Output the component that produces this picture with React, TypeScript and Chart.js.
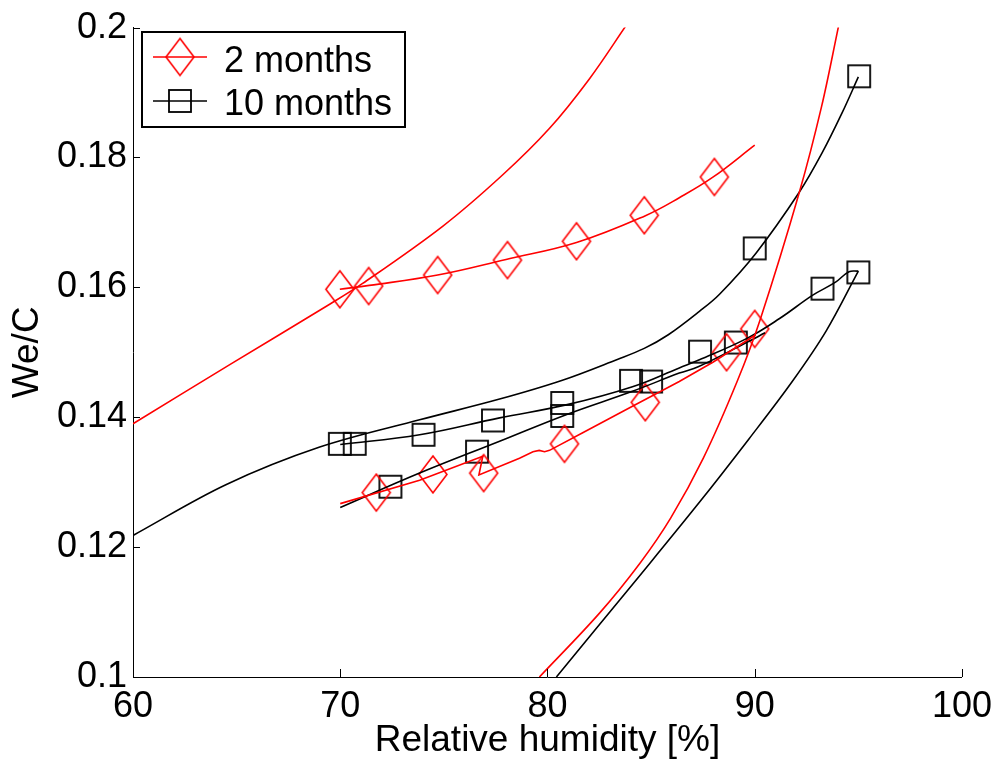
import React, { useEffect, useRef } from 'react';
import { Chart, registerables } from 'chart.js';

Chart.register(...registerables);

// ---------- axis ticks ----------
const X_TICKS = [60, 70, 80, 90, 100];
const Y_TICKS = [0.1, 0.12, 0.14, 0.16, 0.18, 0.2];
const X_TITLE = 'Relative humidity [%]';
const Y_TITLE = 'We/C';
const SERIES_NAMES = ['2 months', '10 months'];

// ---------- 2 months (red) ----------
const RED_FIT_UPPER_X = [60, 64.67, 69.49, 71.08, 74.94, 77.83, 80.1, 82.02, 83.81];
const RED_FIT_UPPER_Y = [0.139, 0.1481, 0.1574, 0.1606, 0.1694, 0.1773, 0.1845, 0.1921, 0.2004];

const RED_STEEP_X = [79.61, 82.5, 84.48, 85.95, 87.52, 89.15, 90.27, 92.15, 93.23, 94.05];
const RED_STEEP_Y = [0.1, 0.1098, 0.1176, 0.1245, 0.1337, 0.1455, 0.1551, 0.1746, 0.1879, 0.2003];

const RED_DES_X = [69.98, 71.4, 74.7, 78.0, 81.4, 84.7, 86.36, 88.0, 90.0];
const RED_DES_Y = [0.1597, 0.1603, 0.1619, 0.1643, 0.1669, 0.171, 0.1738, 0.177, 0.1819];

const RED_ABS_X = [70.0, 73.83, 76.88, 76.69, 78.65, 79.3, 79.6, 79.86, 80.1, 81.7, 84.1, 86.36, 88.0, 90.05];
const RED_ABS_Y = [0.1267, 0.1303, 0.134, 0.1311, 0.1337, 0.1347, 0.1349, 0.1347, 0.1349, 0.1376, 0.1417, 0.1455, 0.1485, 0.1527];

const RED_MARK_X = [69.98, 71.37, 74.7, 78.07, 81.4, 84.67, 88.05, 71.74, 74.47, 76.92, 80.82, 84.72, 88.64, 90.0];
const RED_MARK_Y = [0.1597, 0.1602, 0.1619, 0.1642, 0.1671, 0.1711, 0.177, 0.1284, 0.1312, 0.1314, 0.1359, 0.1423, 0.15, 0.1536];

// ---------- 10 months (black) ----------
const BLACK_FIT_X = [60, 64.48, 69.01, 73.83, 77.69, 80.72, 83.37, 84.67, 85.83, 87.33, 88.29, 90.07, 92.14, 93.25, 94.22, 95.0];
const BLACK_FIT_Y = [0.1218, 0.1296, 0.1354, 0.1396, 0.1428, 0.1457, 0.1489, 0.1506, 0.1527, 0.1563, 0.1589, 0.1653, 0.1746, 0.1807, 0.1869, 0.1924];

const BLACK_STEEP_X = [80.43, 84.19, 87.33, 89.73, 91.81, 93.45, 95.0];
const BLACK_STEEP_Y = [0.1, 0.1146, 0.1269, 0.1367, 0.1455, 0.1533, 0.1625];

const BLACK_MID_X = [70.0, 73.83, 77.69, 80.9, 84.1, 86.36, 87.3, 89.6, 91.2, 92.8, 93.9, 94.55, 95.0];
const BLACK_MID_Y = [0.1358, 0.1373, 0.1399, 0.1419, 0.1447, 0.1476, 0.1488, 0.1521, 0.1552, 0.1588, 0.1608, 0.1624, 0.1625];

const BLACK_LOW_X = [70.0, 73.83, 77.69, 80.9, 84.1, 86.36, 87.3, 89.6, 90.5];
const BLACK_LOW_Y = [0.1261, 0.1314, 0.1363, 0.1404, 0.144, 0.1468, 0.1478, 0.1515, 0.153];

const BLACK_MARK_X = [69.98, 70.7, 74.02, 77.37, 76.6, 72.42, 80.71, 80.71, 84.03, 85.0, 87.36, 89.09, 93.27, 95.0, 90.0, 95.04];
const BLACK_MARK_Y = [0.1359, 0.1359, 0.1373, 0.1395, 0.1347, 0.1293, 0.1422, 0.1402, 0.1456, 0.1455, 0.1501, 0.1515, 0.1598, 0.1623, 0.166, 0.1925];

const RED = '#ff0000';
const BLACK = '#000000';
const FONT_FAMILY = '"Liberation Sans", Arial, Helvetica, sans-serif';
const FONT_SIZE = 36;
const TITLE_SIZE = 37;

function pts(xs: number[], ys: number[]) {
  return xs.map((x, i) => ({ x, y: ys[i] }));
}

function makeDiamond(color: string, w: number, h: number, lw: number) {
  const c = document.createElement('canvas');
  c.width = w + 4;
  c.height = h + 4;
  const g = c.getContext('2d')!;
  g.strokeStyle = color;
  g.lineWidth = lw;
  const cx = c.width / 2, cy = c.height / 2;
  g.beginPath();
  g.moveTo(cx, cy - h / 2);
  g.lineTo(cx + w / 2, cy);
  g.lineTo(cx, cy + h / 2);
  g.lineTo(cx - w / 2, cy);
  g.closePath();
  g.stroke();
  return c;
}

function makeSquare(color: string, s: number, lw: number) {
  const c = document.createElement('canvas');
  c.width = s + 4;
  c.height = s + 4;
  const g = c.getContext('2d')!;
  g.strokeStyle = color;
  g.lineWidth = lw;
  g.strokeRect(2, 2, s, s);
  return c;
}

function lineDs(xs: number[], ys: number[], color: string, tension: number) {
  return {
    data: pts(xs, ys),
    showLine: true,
    borderColor: color,
    backgroundColor: color,
    borderWidth: 1.6,
    pointRadius: 0,
    fill: false,
    cubicInterpolationMode: 'default' as const,
    tension,
  };
}

export default function App() {
  const ref = useRef<HTMLCanvasElement>(null);

  useEffect(() => {
    document.body.style.margin = '0';
    const canvas = ref.current!;
    Chart.defaults.font.family = FONT_FAMILY;
    Chart.defaults.color = '#000';

    const diamond = makeDiamond(RED, 28, 37, 1.6);
    const square = makeSquare(BLACK, 22, 1.8);

    const innerTicks = {
      id: 'innerTicks',
      afterDraw(chart: any) {
        const { ctx, chartArea, scales } = chart;
        ctx.save();
        ctx.strokeStyle = '#000';
        ctx.lineWidth = 1;
        ctx.beginPath();
        for (const v of X_TICKS) {
          const px = Math.round(scales.x.getPixelForValue(v)) + 0.5;
          ctx.moveTo(px, chartArea.bottom);
          ctx.lineTo(px, chartArea.bottom - 8);
        }
        for (const v of Y_TICKS) {
          const py = Math.round(scales.y.getPixelForValue(v)) + 0.5;
          ctx.moveTo(chartArea.left, py);
          ctx.lineTo(chartArea.left + 7, py);
        }
        ctx.stroke();
        ctx.restore();
      },
    };

    const matLegend = {
      id: 'matLegend',
      afterDraw(chart: any) {
        const { ctx } = chart;
        const bx = 142, by = 32, bw = 263, bh = 95;
        ctx.save();
        ctx.fillStyle = '#fff';
        ctx.fillRect(bx, by, bw, bh);
        ctx.strokeStyle = '#000';
        ctx.lineWidth = 2;
        ctx.strokeRect(bx, by, bw, bh);
        const rows = [
          { y: 57, color: RED, img: diamond, name: SERIES_NAMES[0], base: 72 },
          { y: 101, color: BLACK, img: square, name: SERIES_NAMES[1], base: 115 },
        ];
        for (const r of rows) {
          ctx.strokeStyle = r.color;
          ctx.lineWidth = 1.3;
          ctx.beginPath();
          ctx.moveTo(153, r.y);
          ctx.lineTo(207, r.y);
          ctx.stroke();
          ctx.drawImage(r.img, 180 - r.img.width / 2, r.y - r.img.height / 2);
          ctx.fillStyle = '#000';
          ctx.font = `${FONT_SIZE}px ${FONT_FAMILY}`;
          ctx.textAlign = 'left';
          ctx.textBaseline = 'alphabetic';
          ctx.fillText(r.name, 224, r.base);
        }
        ctx.restore();
      },
    };

    const chart = new Chart(canvas, {
      type: 'line',
      data: {
        datasets: [
          lineDs(RED_FIT_UPPER_X, RED_FIT_UPPER_Y, RED, 0.35),
          lineDs(RED_STEEP_X, RED_STEEP_Y, RED, 0.35),
          lineDs(RED_DES_X, RED_DES_Y, RED, 0.4),
          lineDs(RED_ABS_X, RED_ABS_Y, RED, 0),
          lineDs(BLACK_FIT_X, BLACK_FIT_Y, BLACK, 0.35),
          lineDs(BLACK_STEEP_X, BLACK_STEEP_Y, BLACK, 0.35),
          lineDs(BLACK_MID_X, BLACK_MID_Y, BLACK, 0.4),
          lineDs(BLACK_LOW_X, BLACK_LOW_Y, BLACK, 0.4),
          {
            data: pts(RED_MARK_X, RED_MARK_Y),
            showLine: false,
            pointStyle: diamond,
            pointRadius: 10,
            borderColor: RED,
            backgroundColor: RED,
          },
          {
            data: pts(BLACK_MARK_X, BLACK_MARK_Y),
            showLine: false,
            pointStyle: square,
            pointRadius: 10,
            borderColor: BLACK,
            backgroundColor: BLACK,
          },
        ] as any,
      },
      options: {
        responsive: false,
        animation: false,
        events: [],
        layout: { padding: { top: 24, right: 37, left: 0, bottom: 0 } },
        plugins: {
          legend: { display: false },
          tooltip: { enabled: false },
        },
        scales: {
          x: {
            type: 'linear',
            min: 60,
            max: 100,
            afterBuildTicks: (s: any) => {
              s.ticks = X_TICKS.map((v) => ({ value: v }));
            },
            afterFit: (s: any) => {
              s.height = 87;
            },
            grid: { display: false, drawTicks: false },
            border: { display: true, color: '#000', width: 1 },
            ticks: {
              padding: 8,
              maxRotation: 0,
              autoSkip: false,
              color: '#000',
              font: { size: FONT_SIZE, family: FONT_FAMILY },
              callback: (v: any) => String(v),
            },
            title: {
              display: true,
              text: X_TITLE,
              color: '#000',
              font: { size: TITLE_SIZE, family: FONT_FAMILY },
              padding: { top: 0, bottom: 1 },
            },
          },
          y: {
            type: 'linear',
            min: 0.1,
            max: 0.2,
            afterBuildTicks: (s: any) => {
              s.ticks = Y_TICKS.map((v) => ({ value: v }));
            },
            afterFit: (s: any) => {
              s.width = 133;
            },
            grid: { display: false, drawTicks: false },
            border: { display: true, color: '#000', width: 1 },
            ticks: {
              padding: 6,
              autoSkip: false,
              color: '#000',
              font: { size: FONT_SIZE, family: FONT_FAMILY },
              callback: (v: any) => String(v),
            },
            title: {
              display: true,
              text: Y_TITLE,
              color: '#000',
              font: { size: TITLE_SIZE, family: FONT_FAMILY },
              padding: { top: 6, bottom: 0 },
            },
          },
        },
      } as any,
      plugins: [innerTicks, matLegend],
    });

    return () => chart.destroy();
  }, []);

  return (
    <div style={{ width: 1000, height: 764 }}>
      <canvas ref={ref} width={1000} height={764} style={{ display: 'block' }} />
    </div>
  );
}
